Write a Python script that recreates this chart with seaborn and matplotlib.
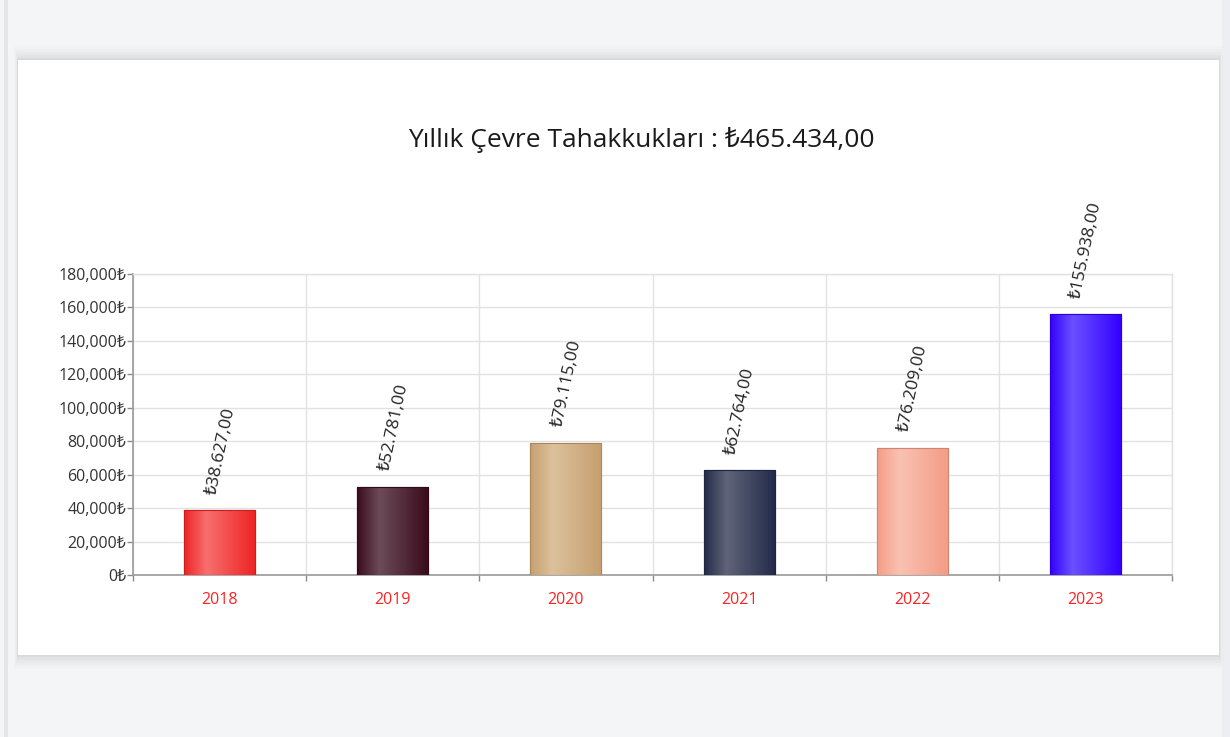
import numpy as np
import pandas as pd
import matplotlib
matplotlib.use("Agg")
import matplotlib.pyplot as plt
import matplotlib.colors as mcolors
from matplotlib.patches import Rectangle
from matplotlib.ticker import FixedLocator, FuncFormatter
import seaborn as sns

# ---- data ----
years = ["2018", "2019", "2020", "2021", "2022", "2023"]
values = [38627, 52781, 79115, 62764, 76209, 155938]
title_text = "Yıllık Çevre Tahakkukları : ₺465.434,00"
y_ticks = [0, 20000, 40000, 60000, 80000, 100000, 120000, 140000, 160000, 180000]
edge_colors = ["#ee2424", "#3a0c1c", "#c6a070", "#242b4a", "#f49c86", "#3300ff"]
light_colors = ["#f76f6f", "#6c4b59", "#dcc19c", "#5f6479", "#f9c2b2", "#6b50ff"]

sns.set_theme(style="white")
FAM = ["Open Sans", "Noto Sans", "DejaVu Sans"]
plt.rcParams["font.family"] = FAM

W, H = 1230, 737
fig = plt.figure(figsize=(W / 100, H / 100), dpi=100)
fig.patch.set_facecolor("#f4f5f7")

# page decoration: left strip, card with soft shadow
fig.patches.append(Rectangle((4 / W, 0), 4 / W, 1, transform=fig.transFigure,
                             facecolor="#e5e6eb", edgecolor="none", zorder=0))
fig.patches.append(Rectangle((1222 / W, 0), 8 / W, 1, transform=fig.transFigure,
                             facecolor="#eceef1", edgecolor="none", zorder=0))
cx0, cx1, cy0, cy1 = 18, 1219, 60, 655
for pad, a in [(14, 0.012), (11, 0.015), (8, 0.02), (5, 0.025), (2, 0.035)]:
    fig.patches.append(Rectangle(((cx0 - pad * 0.3) / W, 1 - (cy1 + pad) / H),
                                 (cx1 - cx0 + pad * 0.6) / W, (cy1 - cy0 + pad * 2) / H,
                                 transform=fig.transFigure, facecolor="black",
                                 alpha=a, edgecolor="none", zorder=1))
fig.patches.append(Rectangle((cx0 / W, 1 - cy1 / H), (cx1 - cx0) / W, (cy1 - cy0) / H,
                             transform=fig.transFigure, facecolor="white",
                             edgecolor="none", zorder=2))

ax = fig.add_axes([133 / W, 1 - 575 / H, (1172 - 133) / W, (575 - 274) / H], zorder=3)
ax.set_facecolor("white")

df = pd.DataFrame({"year": years, "value": values})
sns.barplot(data=df, x="year", y="value", hue="year", palette=edge_colors,
            legend=False, width=0.41, ax=ax, saturation=1, zorder=3)

ax.set_xlim(-0.5, 5.5)
ax.set_ylim(0, 180000)

# gradient fill on bars
t = np.linspace(0, 1, 256)
prof = np.where(t < 0.32, t / 0.32, (1 - t) / 0.68)
for patch, dc, lc in zip(ax.patches, edge_colors, light_colors):
    d = np.array(mcolors.to_rgb(dc))
    l = np.array(mcolors.to_rgb(lc))
    img = d[None, :] + (l - d)[None, :] * prof[:, None]
    img = img[None, :, :]
    x0, y0 = patch.get_x(), patch.get_y()
    w, h = patch.get_width(), patch.get_height()
    im = ax.imshow(img, extent=(x0, x0 + w, y0, y0 + h), aspect="auto",
                   zorder=3.5, interpolation="bilinear")
    im.set_clip_path(patch)
    patch.set_edgecolor(tuple(d * 0.85))
    patch.set_linewidth(0.8)
    ax.add_patch(Rectangle((x0, y0), w, h, facecolor="none",
                           edgecolor=tuple(d * 0.85), linewidth=0.8, zorder=3.6))

ax.set_xlim(-0.5, 5.5)
ax.set_ylim(0, 180000)

# value labels
for i, v in enumerate(values):
    s = f"{v:,.2f}".replace(",", "X").replace(".", ",").replace("X", ".")
    ax.annotate("₺" + s, xy=(i, v), xytext=(1, 14), textcoords="offset pixels",
                rotation=78, ha="center", va="bottom", fontsize=12.5,
                color="#222222", family=FAM, zorder=5)

# axes styling
ax.set_xlabel("")
ax.set_ylabel("")
ax.yaxis.set_major_locator(FixedLocator(y_ticks))
ax.yaxis.set_major_formatter(FuncFormatter(lambda v, p: f"{int(v):,}₺"))
ax.tick_params(axis="y", which="major", length=4, width=1, color="#8a8a8a",
               labelsize=11.5, labelcolor="#333333", pad=1, left=True)
ax.tick_params(axis="x", which="major", length=0, labelsize=11.5,
               labelcolor="#ff2222", pad=12)
ax.xaxis.set_minor_locator(FixedLocator([-0.5, 0.5, 1.5, 2.5, 3.5, 4.5, 5.5]))
ax.tick_params(axis="x", which="minor", length=4, width=1, color="#8a8a8a",
               bottom=True)
ax.grid(axis="y", which="major", color="#e2e2e2", linewidth=1)
ax.grid(axis="x", which="minor", color="#e2e2e2", linewidth=1)
ax.grid(axis="x", which="major", visible=False)
ax.set_axisbelow(True)
for side in ["left", "bottom"]:
    ax.spines[side].set_color("#9a9a9a")
    ax.spines[side].set_linewidth(1.2)
for side in ["top", "right"]:
    ax.spines[side].set_color("#e2e2e2")
    ax.spines[side].set_linewidth(1)

fig.text(641 / W, 1 - 140 / H, title_text, ha="center", va="center",
         fontsize=19, color="#1a1a1a", family=FAM, zorder=5)

fig.savefig("out.png", dpi=100, facecolor=fig.get_facecolor())
